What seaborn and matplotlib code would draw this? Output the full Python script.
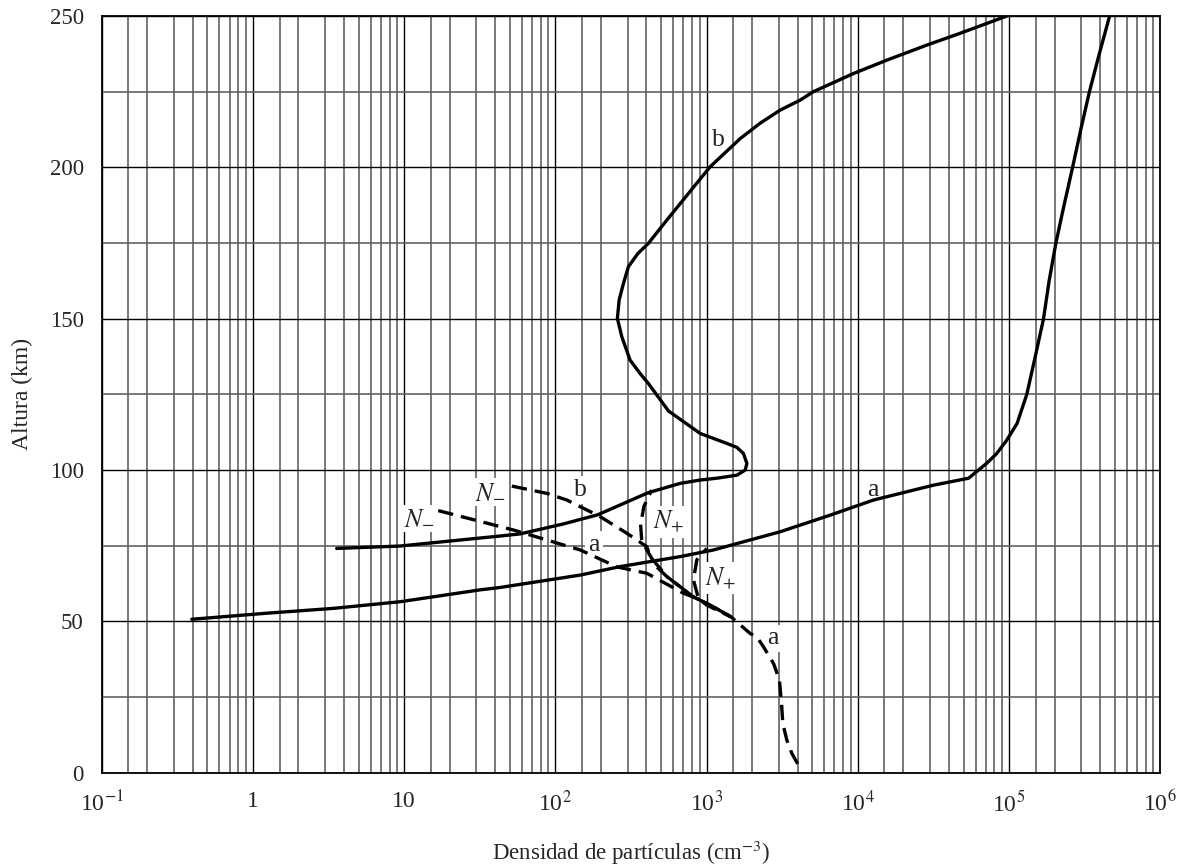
import matplotlib
matplotlib.use("Agg")
import matplotlib.pyplot as plt
from matplotlib.ticker import FixedLocator, NullFormatter
import seaborn as sns

# ---------------- data ----------------
# curve a, electron density (solid)
a_x = [0.394, 1.23, 3.4, 9.4, 31.6, 43, 146, 268, 668, 1110, 3060, 6560, 12700,
       31600, 54000, 71000, 83000, 96600, 113000, 131000, 149000, 169000, 184000,
       204000, 231000, 263000, 298000, 340000, 395000, 461000]
a_y = [50.7, 52.7, 54.3, 56.5, 60.4, 61.2, 65.3, 68.1, 71.4, 73.6, 79.6, 85.1, 90.1,
       95.0, 97.3, 102.2, 105.5, 109.9, 115.4, 125.0, 137.5, 150.0, 162.5,
       175.0, 187.5, 200.0, 212.5, 225.0, 237.5, 249.8]

# curve b, electron density (solid)
b_x = [3.58, 9.4, 43, 58.4, 113, 190, 410, 669, 906, 1167, 1585, 1800, 1846, 1750,
       1585, 1360, 906, 560, 412, 363, 312, 275, 257, 264, 282, 304, 352, 412, 546,
       1055, 1667, 2260, 3062, 4150, 5080, 9350, 15500, 28600, 47500, 96600]
b_y = [74.1, 74.9, 78.2, 78.9, 82.2, 85.2, 92.5, 95.6, 96.7, 97.3, 98.3, 100.0, 102.2, 105.5,
       107.5, 108.8, 112.1, 119.5, 128.6, 131.9, 136.3, 144.0, 150.1, 156.2, 161.7,
       167.2, 171.6, 174.9, 182.6, 200.2, 209.5, 214.6, 218.9, 222.2, 225.0, 231.0, 235.4,
       240.4, 244.3, 250.0]

# negative ions, case a (dashed)
na_neg_x = [16.8, 52.7, 146, 255, 402, 703, 862, 1450, 1940, 2146, 2377, 2770, 3030,
            3140, 3190, 3390, 3660, 4150]
na_neg_y = [86.6, 80.2, 73.6, 68.0, 65.9, 59.3, 57.6, 51.5, 46.0, 44.9, 41.6, 36.1, 30.6,
            21.8, 16.3, 10.8, 6.4, 1.5]

# negative ions, case b (dashed)
nb_neg_x = [51.5, 87.7, 119, 198, 297, 402, 424, 546, 818, 1055, 1450]
nb_neg_y = [94.7, 92.3, 90.1, 84.6, 79.1, 74.7, 71.4, 64.8, 58.1, 55.4, 51.5]

# positive ions, case b (dashed)
nb_pos_x = [433, 385, 366, 372, 402, 468, 546, 818, 1055, 1450]
nb_pos_y = [93.4, 88.0, 82.0, 76.9, 73.6, 68.0, 64.8, 58.1, 55.4, 51.5]

# positive ions, case a (dashed)
na_pos_x = [1003, 861, 818, 883, 1000, 1450]
na_pos_y = [74.1, 70.3, 63.7, 57.6, 55.4, 51.5]

x_tick_vals = [0.1, 1, 10, 100, 1e3, 1e4, 1e5, 1e6]
x_tick_labels = [r"10$^{-1}$", "1", "10", r"10$^{2}$", r"10$^{3}$", r"10$^{4}$", r"10$^{5}$", r"10$^{6}$"]
y_tick_vals = [0, 50, 100, 150, 200, 250]

# curve labels: (text, x, y)
curve_labels = [
    ("b", 1197, 209.0),
    ("a", 12560, 93.4),
    (r"$N_{-}$", 37, 92.8),
    (r"$N_{-}$", 12.7, 84.0),
    ("b", 146, 93.4),
    ("a", 180, 75.2),
    (r"$N_{+}$", 559, 82.9),
    (r"$N_{+}$", 1228, 64.2),
    ("a", 2740, 44.4),
]

# ---------------- style ----------------
sns.set_style("white")
plt.rcParams["font.family"] = ["Liberation Serif", "DejaVu Serif"]
plt.rcParams["mathtext.fontset"] = "stix"

fig = plt.figure(figsize=(11.87, 8.66), dpi=100)
ax = fig.add_axes([0.0857, 0.1077, 0.8918, 0.8738])

ax.set_xscale("log")
ax.set_xlim(0.1, 1e6)
ax.set_ylim(0, 250)

solid_kw = dict(color="black", linewidth=2.4, sort=False, estimator=None, ax=ax, zorder=3)
dash_kw = dict(color="black", linewidth=2.4, sort=False, estimator=None, ax=ax, zorder=3,
               linestyle=(0, (4.6, 2.4)))
dash_kw2 = dict(dash_kw)
dash_kw2["linestyle"] = (3.0, (4.6, 2.4))

sns.lineplot(x=a_x, y=a_y, **solid_kw)
sns.lineplot(x=b_x, y=b_y, **solid_kw)
sns.lineplot(x=na_neg_x, y=na_neg_y, **dash_kw)
sns.lineplot(x=nb_neg_x, y=nb_neg_y, **dash_kw)
sns.lineplot(x=nb_pos_x, y=nb_pos_y, **dash_kw2)
sns.lineplot(x=na_pos_x, y=na_pos_y, **dash_kw2)

# grid
minor_x = []
for d in range(-1, 6):
    for m in [1.5, 2, 3, 4, 5, 6, 7, 8, 9]:
        minor_x.append(m * 10 ** d)
ax.xaxis.set_major_locator(FixedLocator(x_tick_vals))
ax.xaxis.set_minor_locator(FixedLocator(minor_x))
ax.xaxis.set_minor_formatter(NullFormatter())
ax.set_xticklabels(x_tick_labels)
ax.yaxis.set_major_locator(FixedLocator(y_tick_vals))
ax.yaxis.set_minor_locator(FixedLocator([25, 75, 125, 175, 225]))
ax.set_axisbelow(True)
ax.grid(which="major", color="black", linewidth=1.0)
ax.grid(which="minor", color="#626262", linewidth=1.2)
ax.tick_params(which="both", length=0)
ax.tick_params(axis="x", labelsize=17, pad=13)
ax.tick_params(axis="y", labelsize=16.5, pad=13)

for s in ax.spines.values():
    s.set_color("black")
    s.set_linewidth(1.3)

ax.set_xlabel(r"Densidad de partículas (cm$^{-3}$)", fontsize=16.5)
ax.xaxis.set_label_coords(0.5, -0.087)
ax.set_ylabel("Altura (km)", fontsize=17)
ax.yaxis.set_label_coords(-0.065, 0.5)

for txt, xv, yv in curve_labels:
    ax.text(xv, yv, txt, fontsize=18.5, ha="center", va="center", zorder=2,
            bbox=dict(facecolor="white", edgecolor="none", pad=2))

fig.savefig("out.png", dpi=100)
